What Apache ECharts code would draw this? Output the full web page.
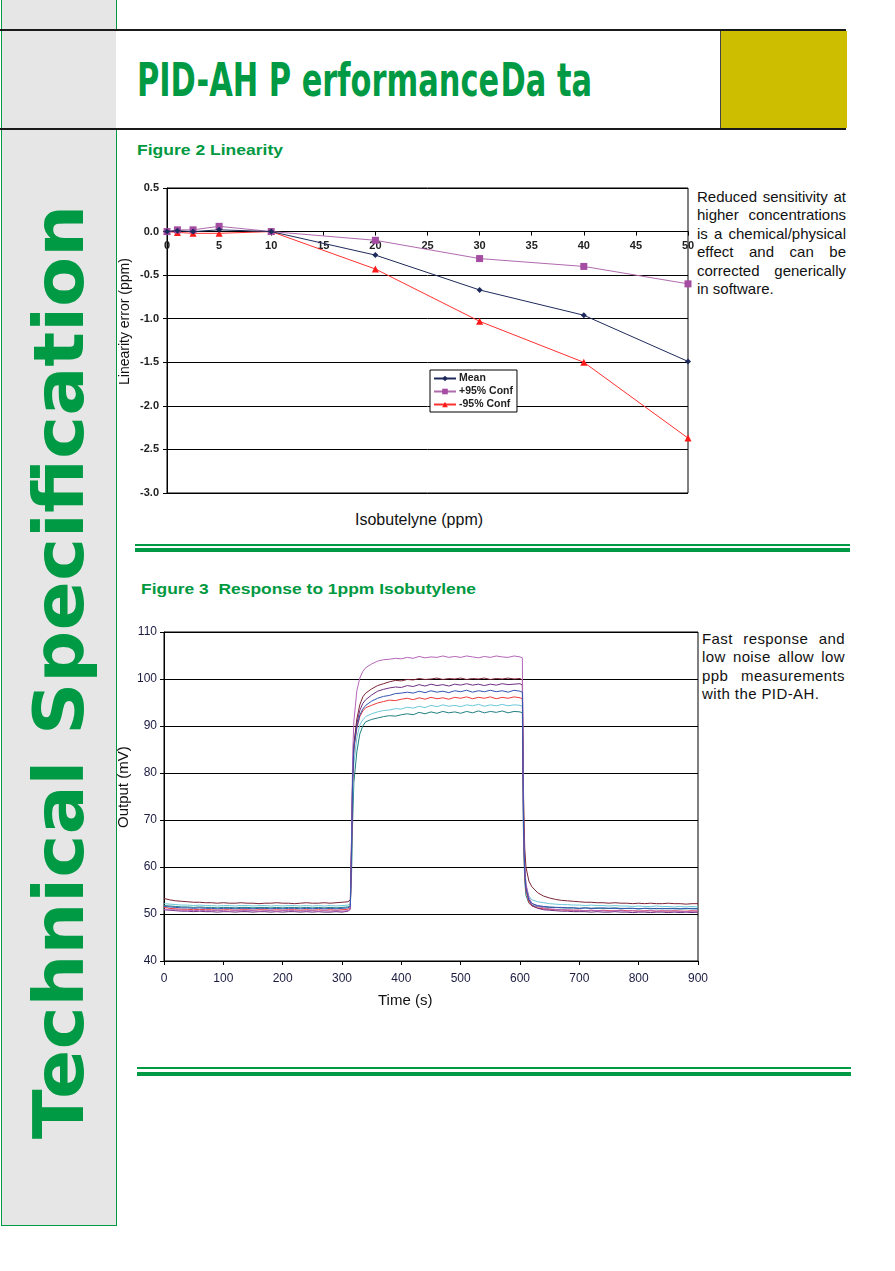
<!DOCTYPE html>
<html><head><meta charset="utf-8">
<script src="https://cdn.jsdelivr.net/npm/echarts@6/dist/echarts.min.js"></script>
<style>
html,body{margin:0;padding:0;background:#fff;}
body{width:895px;height:1271px;position:relative;overflow:hidden;font-family:"Liberation Sans",Arial,sans-serif;}
.abs{position:absolute;}
.green{color:#009a44;}
.fig{font-weight:bold;font-size:15.5px;line-height:1;white-space:nowrap;display:inline-block;color:#00993f;}
.para div{height:18.4px;line-height:18.4px;font-size:15px;color:#111;text-align:justify;text-align-last:justify;white-space:nowrap;}
.para div.last{text-align:left;text-align-last:left;}
.para2 div{letter-spacing:0.4px;}
.vt{position:absolute;white-space:nowrap;color:#111;transform-origin:0 0;transform:rotate(-90deg);}
#chart{position:absolute;left:0;top:0;width:895px;height:1271px;z-index:2;}
</style></head><body>
<div class="abs" style="left:1px;top:0;width:114px;height:1225px;background:#e6e6e6;border:1px solid #009a44;border-top:none;"></div>
<div class="abs" style="left:0;top:29px;width:846px;height:2px;background:#1a1a1a;"></div>
<div class="abs" style="left:0;top:128px;width:846px;height:2px;background:#1a1a1a;"></div>
<div class="abs" style="left:116px;top:31px;width:604px;height:97px;background:#fff;"></div>
<div class="abs" style="left:720px;top:31px;width:126px;height:97px;background:#cdbf00;border-left:1px solid #444;"></div>
<div class="abs green" id="title" style="left:137px;top:56px;font-family:'Liberation Sans Narrow','DejaVu Sans Condensed',sans-serif;font-weight:bold;font-size:47px;line-height:1;white-space:nowrap;transform-origin:0 0;">PID-AH P erformance<span style="margin-left:2px">Da ta</span></div>
<div class="abs green" id="vtext" style="left:24px;top:1139px;font-family:'DejaVu Sans',sans-serif;font-weight:bold;font-size:70px;line-height:1;white-space:nowrap;transform-origin:0 0;">Technical Specification</div>

<div class="abs fig" id="f2" style="left:137px;top:142px;transform-origin:0 0;">Figure 2 Linearity</div>
<div class="abs fig" id="f3" style="left:141px;top:581px;transform-origin:0 0;">Figure 3&nbsp; Response to 1ppm Isobutylene</div>

<div class="abs para" style="left:697px;top:188px;width:149px;">
<div>Reduced sensitivity at</div>
<div>higher concentrations</div>
<div>is a chemical/physical</div>
<div>effect and can be</div>
<div>corrected generically</div>
<div class="last">in software.</div>
</div>
<div class="abs para para2" style="left:702px;top:630px;width:143px;">
<div>Fast response and</div>
<div>low noise allow low</div>
<div>ppb measurements</div>
<div class="last">with the PID-AH.</div>
</div>

<div class="abs" style="left:355px;top:511px;font-size:16px;line-height:18px;color:#111;white-space:nowrap;">Isobutelyne (ppm)</div>
<div class="vt" style="left:117px;top:385px;font-size:14px;line-height:14px;z-index:3;">Linearity error (ppm)</div>
<div class="abs" style="left:378px;top:991px;font-size:15px;line-height:17px;color:#111;white-space:nowrap;z-index:3;">Time (s)</div>
<div class="vt" style="left:114.5px;top:828px;font-size:15px;line-height:15px;z-index:3;">Output (mV)</div>

<div class="abs" style="left:135px;top:544px;width:715px;height:1.5px;background:#009a44;"></div>
<div class="abs" style="left:135px;top:548px;width:715px;height:4px;background:#009a44;"></div>
<div class="abs" style="left:137px;top:1067px;width:714px;height:1.5px;background:#009a44;"></div>
<div class="abs" style="left:137px;top:1072px;width:714px;height:4px;background:#009a44;"></div>

<div id="chart"></div>
<script>
// ---------- Figure 2 data ----------
const CONC = [0, 1, 2.5, 5, 10, 20, 30, 40, 50];
const MEAN = [0, 0.01, 0.0, 0.02, 0, -0.27, -0.67, -0.96, -1.49];
const POS95 = [0, 0.02, 0.02, 0.06, 0, -0.10, -0.31, -0.40, -0.60];
const NEG95 = [0, -0.01, -0.02, -0.02, 0, -0.43, -1.03, -1.50, -2.37];
const X1_TICKS = [0,5,10,15,20,25,30,35,40,45,50];

// ---------- Figure 3 data ----------
const TIME = [0,10,20,30,40,50,60,70,80,90,
100,110,120,130,140,150,160,170,180,190,
200,210,220,230,240,250,260,270,280,290,
300,310,
314,316,318,320,325,330,335,340,
350,360,370,380,390,400,410,420,430,440,
450,460,470,480,490,500,510,520,530,540,
550,560,570,580,590,600,
604,606,608,610,615,620,
630,640,650,660,670,680,690,700,710,720,
730,740,750,760,770,780,790,800,810,820,
830,840,850,860,870,880,890,900];

const S_PINK = [51.0,50.9,50.9,50.8,50.8,50.7,50.8,50.7,50.7,50.8, 50.7,50.6,50.7,50.7,50.8,50.7,50.6,50.7,50.7,50.6, 50.7,50.8,50.7,50.6,50.7,50.7,50.6,50.7,50.6,50.7, 50.6,50.7,
51.0,66,84,91,97.5,100.2,101.6,102.4,
103.2,103.8,104.1,104.2,104.4,104.3,104.6,104.4,104.8,104.5, 104.7,104.6,104.9,104.6,104.8,104.6,104.9,104.7,104.5,104.8, 104.6,104.9,104.7,104.6,104.9,104.7,
104.5,70,60,56.5,53.5,52.3,
51.6,51.3,51.1,51.0,50.9,50.9,50.8,50.8,50.7,50.8, 50.7,50.7,50.6,50.7,50.7,50.6,50.7,50.6,50.6,50.7, 50.6,50.6,50.7,50.6,50.6,50.5,50.6,50.6];

const S_MAROON = [53.3,53.0,52.8,52.7,52.6,52.5,52.5,52.4,52.4,52.3, 52.4,52.3,52.3,52.4,52.3,52.3,52.2,52.3,52.3,52.4, 52.3,52.3,52.2,52.3,52.4,52.3,52.3,52.4,52.3,52.4, 52.5,52.6,
53.0,65,80,86,91.5,94.5,96.2,97.0,
97.9,98.6,99.0,99.4,99.7,99.6,99.9,99.8,100.1,99.9, 100.0,100.2,99.9,100.1,100.0,100.2,99.9,100.1,100.0,100.2, 99.9,100.1,100.0,100.2,100.0,100.1,
99.8,75,64,60,57,55.8,
54.5,53.8,53.4,53.1,52.9,52.8,52.7,52.6,52.5,52.5, 52.4,52.4,52.3,52.4,52.3,52.3,52.2,52.3,52.2,52.3, 52.2,52.2,52.3,52.2,52.2,52.1,52.2,52.2];

const S_PURPLE = [50.9,50.8,50.7,50.6,50.6,50.5,50.6,50.5,50.5,50.4, 50.5,50.5,50.4,50.5,50.5,50.4,50.5,50.5,50.4,50.5, 50.4,50.5,50.5,50.4,50.5,50.4,50.5,50.4,50.4,50.5, 50.4,50.6,
51.0,64,80,86,90.5,93.3,94.8,95.6,
96.6,97.4,97.8,98.1,98.3,98.2,98.6,98.4,98.8,98.5, 98.9,98.6,98.8,98.5,98.9,98.7,99.0,98.7,98.9,98.6, 98.9,98.7,99.0,98.8,98.9,99.0,
98.7,70,60,56,53,51.8,
51.2,50.9,50.8,50.7,50.6,50.6,50.5,50.5,50.5,50.4, 50.5,50.4,50.4,50.5,50.4,50.4,50.3,50.4,50.4,50.3, 50.4,50.4,50.3,50.4,50.3,50.4,50.3,50.4];

const S_BLUE = [51.6,51.5,51.4,51.3,51.3,51.2,51.3,51.2,51.2,51.1, 51.2,51.2,51.1,51.2,51.2,51.1,51.2,51.2,51.1,51.2, 51.1,51.2,51.2,51.1,51.2,51.1,51.2,51.1,51.2,51.1, 51.2,51.3,
51.6,63,79,85.5,89.8,92.3,93.6,94.4,
95.3,95.9,96.3,96.5,96.9,97.0,97.2,97.0,97.4,97.1, 97.5,97.2,97.4,97.1,97.5,97.3,97.6,97.2,97.5,97.3, 97.6,97.3,97.5,97.2,97.6,97.4,
97.2,68,59,55.5,53,52.2,
51.8,51.6,51.5,51.4,51.4,51.3,51.3,51.2,51.3,51.2, 51.2,51.3,51.2,51.2,51.1,51.2,51.2,51.1,51.2,51.1, 51.2,51.1,51.2,51.1,51.1,51.2,51.1,51.1];

const S_RED = [51.4,51.2,51.1,51.0,51.0,50.9,51.0,50.9,50.9,50.8, 50.9,50.9,50.8,50.9,50.9,50.8,50.9,50.9,50.8,50.9, 50.8,50.9,50.9,50.8,50.9,50.8,50.9,50.8,50.9,50.8, 50.9,51.0,
51.3,62,78,85,89.5,92.0,93.2,93.9,
94.4,94.9,95.2,95.5,95.4,95.7,95.9,95.6,96.0,95.7, 96.1,95.8,96.0,95.7,96.1,95.9,96.2,95.8,96.1,95.9, 96.2,95.8,96.1,95.9,96.2,96.0,
95.8,67,58,55,52.5,51.7,
51.3,51.1,51.0,50.9,50.9,50.8,50.8,50.8,50.7,50.8, 50.7,50.8,50.7,50.7,50.8,50.7,50.7,50.6,50.7,50.7, 50.6,50.7,50.6,50.7,50.6,50.6,50.7,50.6];

const S_CYAN = [52.2,52.1,52.0,51.9,51.9,51.8,51.9,51.8,51.8,51.7, 51.8,51.8,51.7,51.8,51.8,51.7,51.8,51.8,51.7,51.8, 51.7,51.8,51.8,51.7,51.8,51.7,51.8,51.7,51.8,51.7, 51.8,51.9,
52.1,61,75,82,87.5,90.2,91.3,92.0,
92.6,93.0,93.3,93.4,93.7,93.6,94.0,93.8,94.2,93.9, 94.4,94.1,94.5,94.2,94.4,94.1,94.5,94.3,94.6,94.2, 94.5,94.3,94.6,94.3,94.5,94.4,
94.2,66,59,56,53.8,53.0,
52.6,52.4,52.2,52.1,52.0,52.0,51.9,51.9,51.8,51.9, 51.8,51.8,51.7,51.8,51.7,51.7,51.6,51.7,51.6,51.6, 51.7,51.6,51.6,51.5,51.6,51.5,51.6,51.5];

const S_TEAL = [51.8,51.7,51.6,51.5,51.5,51.4,51.5,51.4,51.4,51.3, 51.4,51.4,51.3,51.4,51.4,51.3,51.4,51.4,51.3,51.4, 51.3,51.4,51.4,51.3,51.4,51.3,51.4,51.3,51.4,51.3, 51.4,51.5,
51.7,58,70,78,84.5,88.3,90.0,90.9,
91.4,91.7,92.0,92.2,92.1,92.4,92.6,92.4,92.9,92.6, 93.0,92.7,93.1,92.8,93.0,92.7,93.1,92.8,93.2,92.8, 93.1,92.9,93.2,92.8,93.1,93.0,
92.8,65,57,54,52.3,51.8,
51.6,51.5,51.4,51.4,51.3,51.3,51.3,51.2,51.3,51.2, 51.3,51.2,51.2,51.3,51.2,51.2,51.2,51.1,51.2,51.2, 51.1,51.2,51.1,51.2,51.1,51.1,51.2,51.1];

const RESP_SERIES = [
  {key:'teal', data:S_TEAL, color:'#228080'},
  {key:'cyan', data:S_CYAN, color:'#6cc8d8'},
  {key:'red', data:S_RED, color:'#ee3a3a'},
  {key:'purple', data:S_PURPLE, color:'#6e2f82'},
  {key:'maroon', data:S_MAROON, color:'#7d2335'},
  {key:'pink', data:S_PINK, color:'#b566b8'},
  {key:'blue', data:S_BLUE, color:'#3355b3'}
];

// ---------- text fitting ----------
function fitX(id, target){
  const el = document.getElementById(id);
  el.style.display='inline-block';
  const w = el.getBoundingClientRect().width;
  return target / w;
}
(function(){
  const t = document.getElementById('title');
  t.style.transform = 'scaleX(' + fitX('title', 455) + ')';
  const f2 = document.getElementById('f2');
  f2.style.transform = 'scaleX(' + fitX('f2', 146) + ')';
  const f3 = document.getElementById('f3');
  f3.style.transform = 'scaleX(' + fitX('f3', 335) + ')';
  const v = document.getElementById('vtext');
  const s = fitX('vtext', 934);
  v.style.transform = 'rotate(-90deg) scaleX(' + s + ')';
})();

const FONT = '"Liberation Sans", Arial, sans-serif';
const chart = echarts.init(document.getElementById('chart'), null, {renderer:'canvas'});
const blackLine = {lineStyle:{color:'#000', width:1}};
// Figure 2 grid geometry (y range 0.5 .. -3.0)
const G1 = {left:167, top:188, width:521, height:305};
const Y1_MIN = -3, Y1_MAX = 0.5;
const zeroOffset = -(G1.height * (Y1_MAX - 0) / (Y1_MAX - Y1_MIN)); // move top axis down to y=0

const option = {
  animation:false,
  backgroundColor:'transparent',
  textStyle:{fontFamily:FONT},
  grid:[
    Object.assign({show:true, borderColor:'#000', borderWidth:1, backgroundColor:'#fff'}, G1),
    {left:164, top:632, width:534, height:329, show:true, borderColor:'#000', borderWidth:1, backgroundColor:'#fff'}
  ],
  legend:{
    data:['Mean','+95% Conf','-95% Conf'],
    left:430, top:370, orient:'vertical',
    backgroundColor:'#fff', borderColor:'#000', borderWidth:1, borderRadius:0,
    padding:[3,4,2,3], itemGap:2, itemWidth:22, itemHeight:7,
    textStyle:{fontSize:10.5, fontWeight:'bold', color:'#222', fontFamily:FONT, padding:[0,0,0,-2]}
  },
  xAxis:[
    {gridIndex:0, type:'value', min:0, max:50, interval:5,
     position:'top', offset:zeroOffset,
     axisLine:{onZero:false, lineStyle:{color:'#000', width:1}},
     axisTick:{show:true, inside:true, length:4, lineStyle:{color:'#000'}},
     axisLabel:{inside:true, fontSize:11, fontWeight:'bold', color:'#222', margin:9, showMinLabel:true, showMaxLabel:true,
                formatter: v => X1_TICKS.indexOf(v) >= 0 ? String(v) : ''},
     splitLine:{show:false}},
    {gridIndex:1, type:'value', min:0, max:900, interval:100,
     axisLine:{lineStyle:{color:'#000', width:1}},
     axisTick:{show:true, length:4, lineStyle:{color:'#000'}},
     axisLabel:{fontSize:12, color:'#1a1a40', margin:12},
     splitLine:{show:false}}
  ],
  yAxis:[
    {gridIndex:0, type:'value', min:Y1_MIN, max:Y1_MAX, interval:0.5,
     axisLine:{show:true, onZero:false, lineStyle:{color:'#000', width:1}},
     axisTick:{show:true, length:4, lineStyle:{color:'#000'}},
     axisLabel:{fontSize:11, fontWeight:'bold', color:'#222', margin:8, formatter: v => v.toFixed(1)},
     splitLine:blackLine},
    {gridIndex:1, type:'value', min:40, max:110, interval:10,
     axisLine:{show:true, onZero:false, lineStyle:{color:'#000', width:1}},
     axisTick:{show:true, length:4, lineStyle:{color:'#000'}},
     axisLabel:{fontSize:12, color:'#1a1a40', margin:7},
     splitLine:blackLine}
  ],
  series:[
    {name:'Mean', type:'line', xAxisIndex:0, yAxisIndex:0, z:5,
     data:CONC.map((x,i)=>[x, MEAN[i]]), symbol:'diamond', symbolSize:6,
     lineStyle:{color:'#1f2a5c', width:1}, itemStyle:{color:'#1f2a5c'}},
    {name:'+95% Conf', type:'line', xAxisIndex:0, yAxisIndex:0, z:4,
     data:CONC.map((x,i)=>[x, POS95[i]]), symbol:'rect', symbolSize:7,
     lineStyle:{color:'#b06aae', width:1}, itemStyle:{color:'#a54ca3'}},
    {name:'-95% Conf', type:'line', xAxisIndex:0, yAxisIndex:0, z:3,
     data:CONC.map((x,i)=>[x, NEG95[i]]), symbol:'triangle', symbolSize:7,
     lineStyle:{color:'#ff3030', width:1}, itemStyle:{color:'#ff1a1a'}}
  ].concat(RESP_SERIES.map(s => ({
     name:s.key, type:'line', xAxisIndex:1, yAxisIndex:1, showSymbol:false, symbol:'none',
     silent:true, lineStyle:{color:s.color, width:1}, itemStyle:{color:s.color},
     data:TIME.map((t,i)=>[t, s.data[i]])
  })))
};
chart.setOption(option);
</script>
</body></html>
